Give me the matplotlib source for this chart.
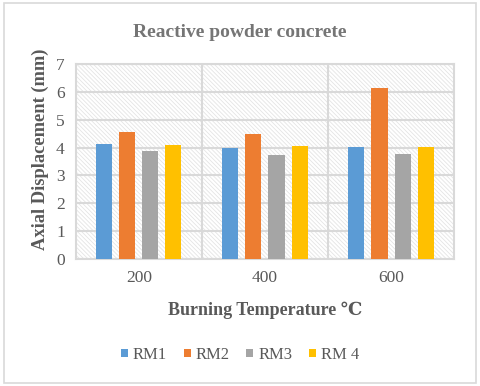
import matplotlib
matplotlib.use('Agg')
import matplotlib.pyplot as plt
import numpy as np
from matplotlib.patches import Rectangle

# Data
temperatures = ['200', '400', '600']
series_names = ['RM1', 'RM2', 'RM3', 'RM 4']
rm1 = [4.13, 4.00, 4.02]
rm2 = [4.57, 4.50, 6.14]
rm3 = [3.88, 3.72, 3.76]
rm4 = [4.09, 4.05, 4.02]
colors = ['#5b9bd5', '#ed7d31', '#a5a5a5', '#ffc000']

plt.rcParams['font.family'] = ['Liberation Serif', 'DejaVu Serif']
plt.rcParams['hatch.linewidth'] = 0.6
plt.rcParams['hatch.color'] = '#e4e4e4'

fig = plt.figure(figsize=(4.8, 3.86), dpi=100)
ax = fig.add_axes([0.158, 0.329, 0.788, 0.505])

# Outer chart border
fig.patches.append(Rectangle((0.008, 0.008), 0.984, 0.984, transform=fig.transFigure,
                             fill=False, edgecolor='#d9d9d9', linewidth=1.2))

# Hatched plot background
ax.add_patch(Rectangle((0, 0), 1, 1, transform=ax.transAxes, facecolor='white',
                       edgecolor='#e4e4e4', hatch='\\\\\\\\\\\\\\\\', linewidth=0, zorder=0))

x = np.arange(len(temperatures))
width = 0.127
step = 0.183
for i, (vals, name) in enumerate(zip([rm1, rm2, rm3, rm4], series_names)):
    ax.bar(x + (i - 1.5) * step, vals, width, color=colors[i], label=name, zorder=3)

ax.set_xlim(-0.5, 2.5)
ax.set_ylim(0, 7)
ax.set_yticks(range(0, 8))
ax.set_xticks(x)
ax.set_xticklabels(temperatures)
ax.set_xticks([0.5, 1.5], minor=True)

ax.grid(axis='y', color='#d9d9d9', linewidth=1.5, zorder=1)
ax.grid(axis='x', which='minor', color='#d9d9d9', linewidth=1.5, zorder=1)
ax.set_axisbelow(True)
for s in ax.spines.values():
    s.set_color('#d9d9d9')
    s.set_linewidth(1.5)
ax.tick_params(which='both', length=0, labelsize=12.5, colors='#595959', pad=8)

fig.text(0.5, 0.917, 'Reactive powder concrete', ha='center', va='center',
         fontsize=14, fontweight='bold', color='#757575')
ax.set_xlabel('Burning Temperature ℃', fontsize=13, fontweight='bold', color='#595959', labelpad=11)
ax.set_ylabel('Axial Displacement (mm)', fontsize=13.3, fontweight='bold', color='#595959')
ax.yaxis.set_label_coords(-0.071, 0.565)

leg = fig.legend(loc='center', bbox_to_anchor=(0.5, 0.08), ncol=4, frameon=False,
                 fontsize=12, handlelength=0.42, handleheight=0.42, handletextpad=0.3,
                 columnspacing=1.0)
for t in leg.get_texts():
    t.set_color('#595959')

fig.savefig('out.png', dpi=100)
